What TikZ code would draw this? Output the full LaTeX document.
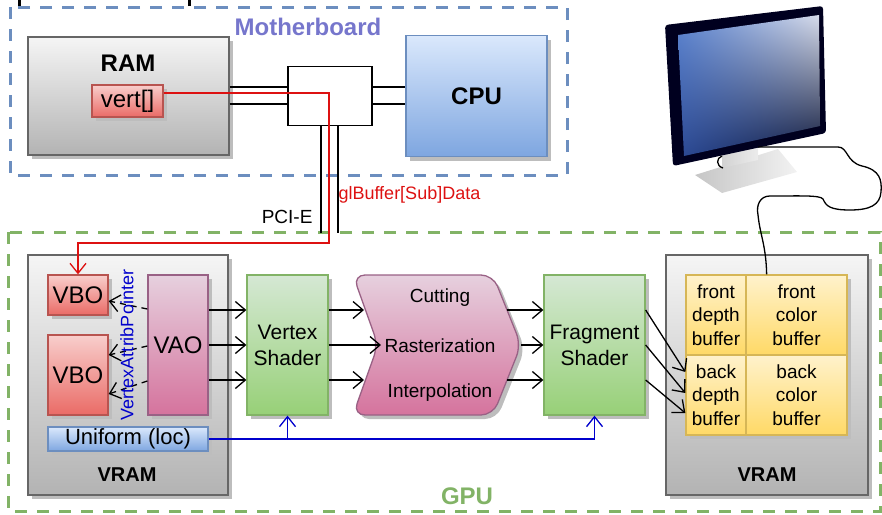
\documentclass[tikz,border=0pt]{standalone}
\usepackage{fontspec}
\setmainfont{Liberation Sans}
\usepackage{xcolor}
\usepackage{tikz}
\usetikzlibrary{arrows.meta,shadows,shadings}

\definecolor{mbblue}{HTML}{6C8EBF}
\definecolor{mbtext}{HTML}{7676CC}
\definecolor{gpugreen}{HTML}{82B366}
\definecolor{memtop}{HTML}{F5F5F5}
\definecolor{membot}{HTML}{B3B3B3}
\definecolor{memedge}{HTML}{666666}
\definecolor{redtop}{HTML}{F8CECC}
\definecolor{redbot}{HTML}{EA6B66}
\definecolor{rededge}{HTML}{B85450}
\definecolor{bluetop}{HTML}{DAE8FC}
\definecolor{bluebot}{HTML}{7EA6E0}
\definecolor{greentop}{HTML}{D5E8D4}
\definecolor{greenbot}{HTML}{97D077}
\definecolor{pinktop}{HTML}{E6D0DE}
\definecolor{pinkbot}{HTML}{D5739D}
\definecolor{pinkedge}{HTML}{996185}
\definecolor{yeltop}{HTML}{FFF2CC}
\definecolor{yelbot}{HTML}{FFD966}
\definecolor{yeledge}{HTML}{D6B656}
\definecolor{glred}{HTML}{DD1111}
\definecolor{uniblue}{HTML}{0000CC}
\definecolor{shadowgray}{HTML}{BDBDBD}
\definecolor{scrUL}{RGB}{95,135,210}
\definecolor{scrUR}{RGB}{215,220,235}
\definecolor{scrLL}{RGB}{45,75,150}
\definecolor{scrLR}{RGB}{10,20,55}

\begin{document}
\begin{tikzpicture}[x=1pt,y=-1pt,
		font=\fontsize{19}{23.5}\selectfont,
		box/.style={draw,line width=1.3pt,inner sep=0pt,align=center,
			drop shadow={shadow xshift=4pt,shadow yshift=-4pt,fill=shadowgray,opacity=1}},
		memory/.style={box,draw=memedge,top color=memtop,bottom color=membot},
		redbox/.style={box,draw=rededge,top color=redtop,bottom color=redbot,font=\fontsize{24}{28}\selectfont},
		bluebox/.style={box,draw=mbblue,top color=bluetop,bottom color=bluebot},
		shader/.style={box,draw=gpugreen,top color=greentop,bottom color=greenbot,minimum height=140pt,font=\fontsize{21}{26}\selectfont},
		cell/.style={draw=yeledge,line width=1.3pt,top color=yeltop,bottom color=yelbot,minimum height=80pt,align=center,inner sep=0pt},
		title/.style={font=\fontsize{24}{28}\selectfont\bfseries},
		vramtitle/.style={font=\fontsize{20}{24}\selectfont\bfseries},
		mbdash/.style={draw=mbblue,line width=3pt,dash pattern=on 12pt off 10pt},
		gpudash/.style={draw=gpugreen,line width=3pt,dash pattern=on 12pt off 10pt},
		bus/.style={line width=1.3pt},
		arr/.style={line width=1.3pt,-{Straight Barb[length=10pt,width=17pt]}},
		darr/.style={arr,dash pattern=on 6pt off 5pt},
		redarr/.style={glred,line width=1.3pt,-{Straight Barb[length=10pt,width=16pt]}},
		uarr/.style={uniblue,line width=1.3pt,-{Straight Barb[length=10pt,width=16pt]}}]
	\useasboundingbox (0,0) rectangle (882,514);

	% frames
	\draw[line width=3pt] (19,0) -- (19,6) (189,6) -- (189,0);
	\draw[mbdash] (10,7) rectangle (567,175);
	\node[title,text=mbtext] (mbtitle) at (308,27) {Motherboard};
	\draw[gpudash] (8,232) rectangle (880,511);
	\node[title,text=gpugreen] (gputitle) at (467,496) {GPU};

	% host side
	\node[memory,minimum width=201pt,minimum height=118pt] (ram) at (128.5,96) {};
	\node[title] (ramtitle) at (128,63) {RAM};
	\node[redbox,minimum width=71pt,minimum height=32pt] (vert) at (127.5,101) {vert[]};
	\node[draw,fill=white,line width=1.3pt,minimum width=84pt,minimum height=59pt] (hub) at (330,96) {};
	\node[bluebox,title,minimum width=141pt,minimum height=121pt] (cpu) at (476.5,96) {CPU};
	\draw[bus] ([yshift=9pt]ram.east) -- ([yshift=9pt]hub.west);
	\draw[bus] ([yshift=-8pt]ram.east) -- ([yshift=-8pt]hub.west);
	\draw[bus] ([yshift=9pt]hub.east) -- ([yshift=9pt]cpu.west);
	\draw[bus] ([yshift=-8pt]hub.east) -- ([yshift=-8pt]cpu.west);
	\draw[bus] ([xshift=-9pt]hub.south) -- ++(0,107);
	\draw[bus] ([xshift=8pt]hub.south) -- ++(0,107);
	\node[anchor=east] (pcie) at (316,217) {PCI-E};
	\node[anchor=west,text=glred,font=\fontsize{18}{22}\selectfont] (glbuf) at (335,195) {glBuffer[Sub]Data};

	% left VRAM
	\node[memory,minimum width=200pt,minimum height=240pt] (vram) at (128,375) {};
	\node[vramtitle] (vramtitle) at (127,475) {VRAM};
	\node[redbox,minimum width=60pt,minimum height=40pt] (vbo1) at (78,295) {VBO};
	\node[redbox,minimum width=60pt,minimum height=80pt] (vbo2) at (78,375) {VBO};
	\node[box,draw=pinkedge,top color=pinktop,bottom color=pinkbot,minimum width=60pt,minimum height=140pt,font=\fontsize{24}{28}\selectfont] (vao) at (178,345) {VAO};
	\node[bluebox,minimum width=160pt,minimum height=24pt,font=\fontsize{22}{26}\selectfont] (uni) at (128,439) {Uniform (loc)};
	\coordinate (bend) at (329,243);
	\draw[redarr] ([yshift=8pt]vert.east) -| (bend) -| (vbo1.north);
	\draw[darr] ([yshift=36pt]vao.west) -- ([yshift=-6pt]vbo1.east);
	\draw[darr] ([yshift=-1pt]vao.west) -- ([yshift=20pt]vbo2.east);
	\draw[darr] ([yshift=-36pt]vao.west) -- ([yshift=-19pt]vbo2.east);
	\node[rotate=90,text=uniblue,font=\fontsize{18}{22}\selectfont] (vap) at (127,345) {VertexAttribPointer};

	% pipeline
	\node[shader,minimum width=81pt] (vs) at (287.5,345) {Vertex\\Shader};
	\fill[shadowgray,rounded corners=12pt] (357,279) -- (497,279) -- (525,349) -- (497,419) -- (357,419) -- (382,349) -- cycle;
	\draw[draw=pinkedge,line width=1.3pt,top color=pinktop,bottom color=pinkbot,rounded corners=12pt]
		(353,275) -- (493,275) -- (521,345) -- (493,415) -- (353,415) -- (378,345) -- cycle;
	\node (cut) at (440,298) {Cutting};
	\node (rast) at (440,346) {Rasterization};
	\node (interp) at (440,393) {Interpolation};
	\coordinate (rin1) at (364,310);
	\coordinate (rin2) at (381,345);
	\coordinate (rin3) at (364,380);
	\coordinate (rout1) at (507,310);
	\coordinate (rout2) at (521,345);
	\coordinate (rout3) at (507,380);
	\node[shader,minimum width=101pt] (fs) at (594.5,345) {Fragment\\Shader};
	\foreach \dy in {35,0,-35}
		\draw[arr] ([yshift=\dy pt]vao.east) -- ([yshift=\dy pt]vs.west);
	\draw[arr] ([yshift=35pt]vs.east) -- (rin1);
	\draw[arr] (vs.east) -- (rin2);
	\draw[arr] ([yshift=-35pt]vs.east) -- (rin3);
	\draw[arr] (rout1) -- ([yshift=35pt]fs.west);
	\draw[arr] (rout2) -- (fs.west);
	\draw[arr] (rout3) -- ([yshift=-35pt]fs.west);
	\draw[uniblue,line width=1.3pt] (uni.east) -- (uni.east -| fs.south);
	\draw[uarr] (uni.east -| vs.south) -- (vs.south);
	\draw[uarr] (uni.east -| fs.south) -- (fs.south);

	% right VRAM with frame buffers
	\node[memory,minimum width=202pt,minimum height=240pt] (fbram) at (767,375) {};
	\node[vramtitle] (fbtitle) at (767,475) {VRAM};
	\fill[shadowgray] (690,279) rectangle (851,439);
	\node[cell,minimum width=60pt] (fd) at (716,315) {front\\depth\\buffer};
	\node[cell,minimum width=101pt] (fc) at (796.5,315) {front\\color\\buffer};
	\node[cell,minimum width=60pt] (bd) at (716,395) {back\\depth\\buffer};
	\node[cell,minimum width=101pt] (bc) at (796.5,395) {back\\color\\buffer};
	\draw[arr] ([yshift=35pt]fs.east) -- ([yshift=23pt]bd.west);
	\draw[arr] (fs.east) -- ([yshift=2pt]bd.west);
	\draw[arr] ([yshift=-35pt]fs.east) -- ([yshift=-18pt]bd.west);

	% monitor
	\shade[left color=gray!45,right color=gray!10] (695,175) -- (778,149) -- (797,172) -- (722,193) -- cycle;
	\shade[left color=gray!35,right color=gray!15] (722,150) -- (758,144) -- (758,160) -- (722,168) -- cycle;
	\fill[black!88!blue,rounded corners=3pt] (665,25) -- (823,6) -- (826,133) -- (673,166) -- cycle;
	\shade[upper left=scrUL,upper right=scrUR,lower left=scrLL,lower right=scrLR]
		(678,35) -- (819,15) -- (820,126) -- (684,156) -- cycle;
	\coordinate (neck) at (758,147);
	\draw[line width=1.3pt] (722,156) .. controls (716,158) and (716,166) .. (723,168);
	\draw[line width=1.3pt] (neck) -- (838,147) .. controls (848,147) and (846,162) .. (862,166)
		.. controls (880,170) and (882,180) .. (881,192) .. controls (880,205) and (870,210) .. (850,210)
		.. controls (830,210) and (826,206) .. (823,199) .. controls (820,195) and (800,196) .. (770,196)
		.. controls (760,196) and (756,205) .. (758,215) .. controls (760,235) and (766,245) .. ([xshift=20pt]fd.north east);
\end{tikzpicture}
\end{document}
